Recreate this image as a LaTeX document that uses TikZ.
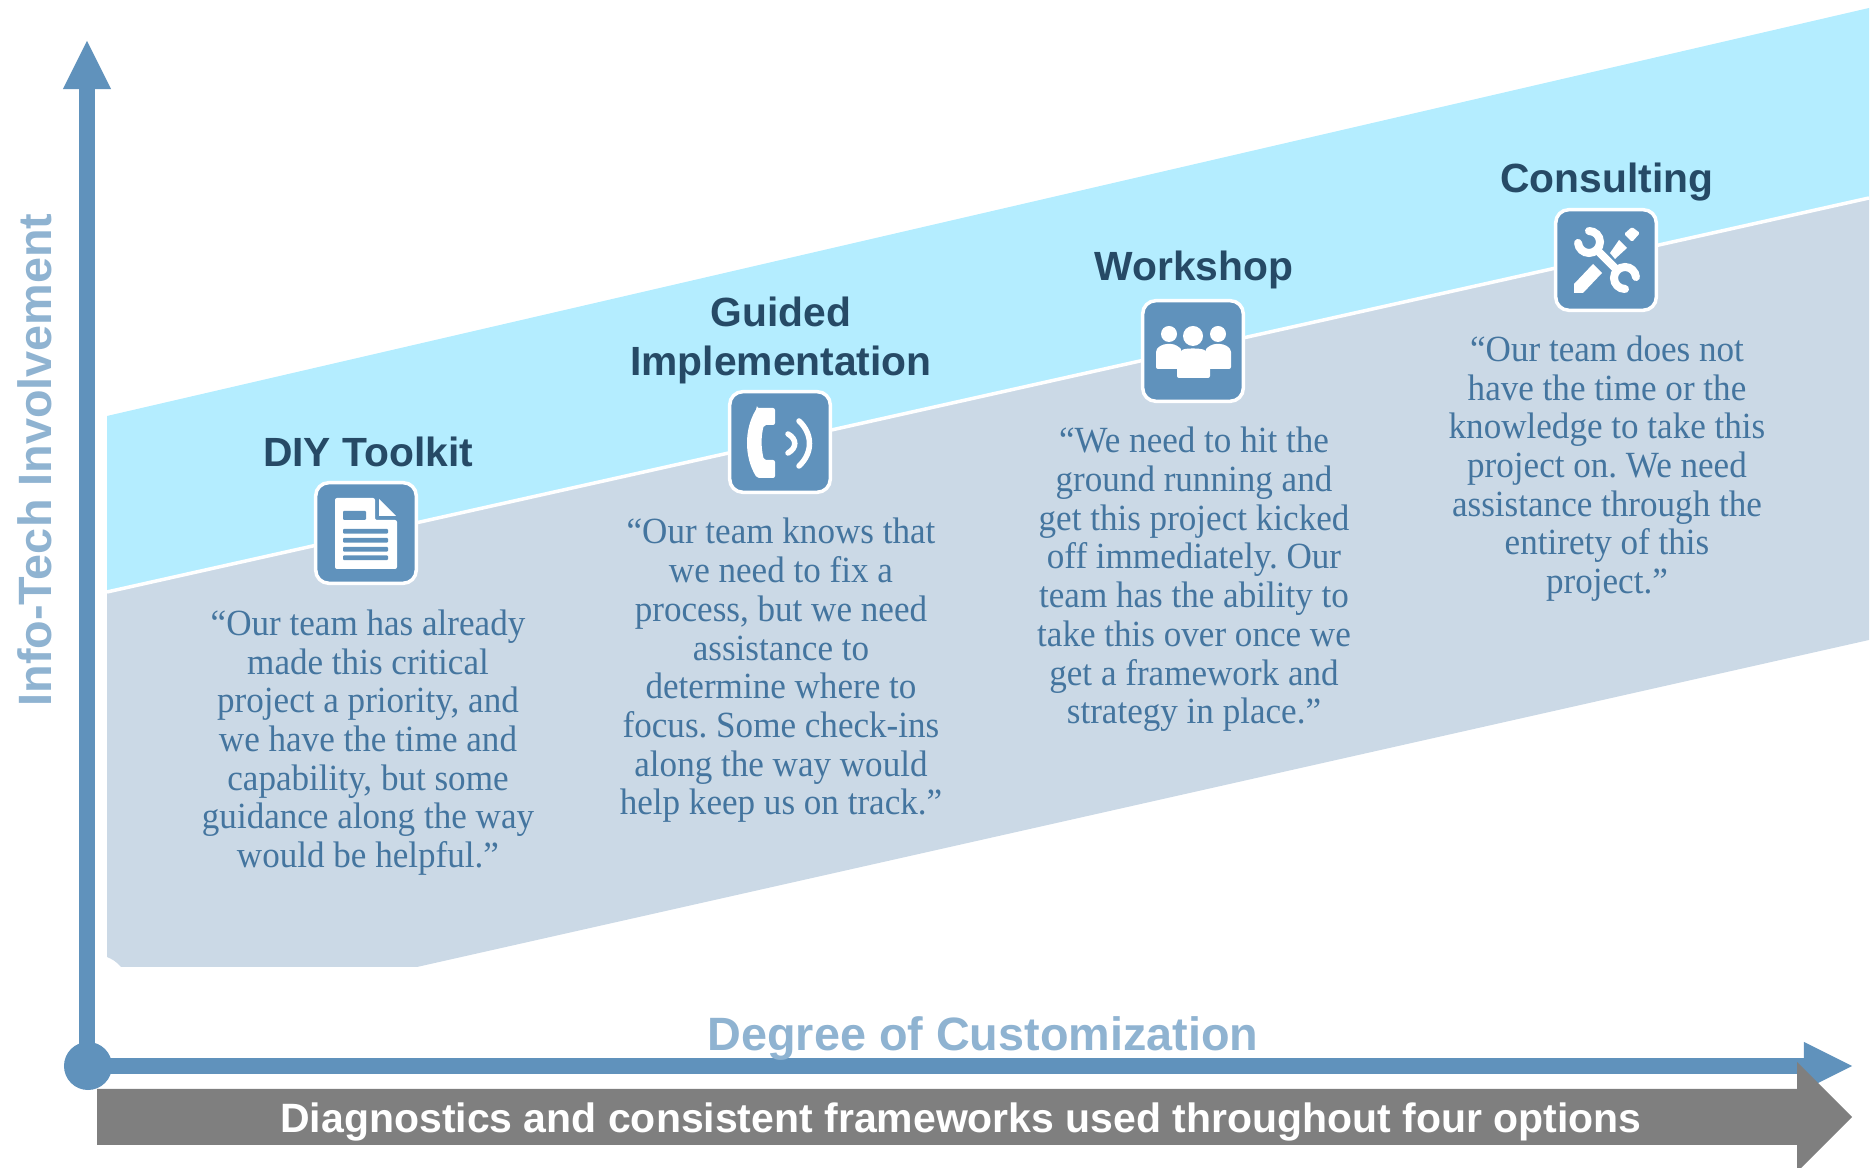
\documentclass[tikz,border=0pt]{standalone}
\usepackage{fontspec}
\setmainfont{Liberation Serif}
\setsansfont{Liberation Sans}
\newfontfamily\quotefont[FakeStretch=0.95]{Liberation Serif}
\usepackage{xcolor}
\usetikzlibrary{arrows.meta}
\definecolor{axisblue}{HTML}{6092BC}
\definecolor{labelblue}{HTML}{8FB3D1}
\definecolor{bandcyan}{HTML}{B4EDFF}
\definecolor{bandgray}{HTML}{CBD9E6}
\definecolor{titlenavy}{HTML}{264A66}
\definecolor{quoteblue}{HTML}{44759F}
\definecolor{bargray}{HTML}{7F7F7F}
\tikzset{
  axisline/.style={axisblue, line width=0.16cm, -{Triangle[length=0.48cm,width=0.48cm,line width=0pt]}},
  axistext/.style={font=\sffamily\bfseries\fontsize{13.3}{16}\selectfont, text=labelblue, inner sep=0},
  titletext/.style={font=\sffamily\bfseries\fontsize{11.6}{13.9}\selectfont, text=titlenavy, align=center, inner sep=0},
  quotetext/.style={font=\quotefont\frenchspacing\fontsize{10.5}{11}\selectfont, text=quoteblue, align=center, inner sep=0},
  iconbox/.style={draw=white, fill=axisblue, line width=0.035cm, rounded corners=0.13cm, minimum size=1.005cm, inner sep=0},
  glyph/.style={fill=white, draw=none},
  cutout/.style={fill=axisblue, draw=none, rounded corners=0.01cm},
  wave/.style={draw=white, line width=0.055cm, line cap=round},
  wrench/.style={draw=white, line width=0.08cm, line cap=round}
}
\begin{document}
\begin{tikzpicture}[x=0.01cm,y=-0.01cm]

\clip (0,0) rectangle (1875,1168);

% bands
\fill[bandcyan] (107,416)--(1869,8)--(1869,198)--(107,592)--cycle;
\fill[bandgray] (107,592)--(1869,198)--(1869,640)--(417,967)--(121,967)
  .. controls (117,962) and (112,959) .. (107,957)--cycle;
\draw[white, line width=0.035cm] (107,592)--(1869,198);

% axes
\node[circle, fill=axisblue, minimum size=0.48cm, inner sep=0] (origin) at (88,1066) {};
\coordinate (ytip) at (87,41);
\coordinate (xtip) at (1852,1066);
\draw[axisline] (87,1066)--(ytip);
\draw[axisline] (origin.center)--(xtip);

\fill[bargray] (97,1089)--(1797,1089)--(1797,1062)--(1852,1117)--(1797,1172)--(1797,1145)--(97,1145)--cycle;

% nodes
\node[axistext] (xlabel) at (983,1038.5) {Degree of Customization};
\node[axistext, rotate=90] (ylabel) at (35,460) {Info-Tech Involvement};
\node[font=\sffamily\bfseries\fontsize{11.65}{13}\selectfont, text=white, inner sep=0] (barlabel) at (961,1122.5)
  {Diagnostics and consistent frameworks used throughout four options};

\node[titletext] (diytitle) at (368,452) {DIY Toolkit};
\node[titletext] (guidedtitle) at (781,340.5) {Guided\\Implementation};
\node[titletext] (worktitle) at (1194,269.5) {Workshop};
\node[titletext] (consulttitle) at (1607,182) {Consulting};

\node[iconbox] (diyicon) at (366,533) {};
\node[iconbox] (guidedicon) at (780,442) {};
\node[iconbox] (workicon) at (1193,351) {};
\node[iconbox] (consulticon) at (1606,260) {};

\node[quotetext] (diyquote) at (368,742.5) {“Our team has already\\made this critical\\project a priority, and\\we have the time and\\capability, but some\\guidance along the way\\would be helpful.”};
\node[quotetext] (guidedquote) at (781,670.5) {“Our team knows that\\we need to fix a\\process, but we need\\assistance to\\determine where to\\focus. Some check-ins\\along the way would\\help keep us on track.”};
\node[quotetext] (workquote) at (1194,579.5) {“We need to hit the\\ground running and\\get this project kicked\\off immediately. Our\\team has the ability to\\take this over once we\\get a framework and\\strategy in place.”};
\node[quotetext] (consultquote) at (1607,468.5) {“Our team does not\\have the time or the\\knowledge to take this\\project on. We need\\assistance through the\\entirety of this\\project.”};

% document
\begin{scope}[shift={(diyicon.center)}]
\fill[glyph, rounded corners=0.02cm] (-31,-35)--(9,-35)--(9,-13)--(31,-13)--(31,36)--(-31,36)--cycle;
\fill[glyph] (13,-34)--(30,-17)--(13,-17)--cycle;
\fill[cutout] (-23,-22) rectangle (0,-13);
\foreach \y in {-4,5,14,22.5}
  \fill[cutout] (-23,\y) rectangle (22,\y+4.7);
\end{scope}

% phone
\begin{scope}[shift={(guidedicon.center)}]
\fill[glyph, rounded corners=0.02cm] (-23,-34)--(-5,-34)--(-5,-17)--(-16,-17)
  .. controls (-19,-6) and (-19,6) .. (-16,18)--(-5,18)--(-5,36)--(-23,36)
  .. controls (-36,15) and (-36,-13) .. (-23,-34)--cycle;
\draw[wave] (8,-8) .. controls (17,-3) and (17,6) .. (8,11);
\draw[wave] (19,-21) .. controls (33,-8) and (33,11) .. (19,24);
\end{scope}

% people
\begin{scope}[shift={(workicon.center)}]
\fill[glyph] (-24,-17) circle [radius=8];
\fill[glyph] (25,-17) circle [radius=8];
\fill[glyph] (0,-15) circle [radius=10];
\fill[glyph, rounded corners=0.02cm] (-37,18)--(-37,3) .. controls (-37,-4) and (-30,-7) .. (-24,-7)
  .. controls (-18,-7) and (-14,-4) .. (-11,-1)--(-11,18)--cycle;
\fill[glyph, rounded corners=0.02cm] (38,18)--(38,3) .. controls (38,-4) and (31,-7) .. (25,-7)
  .. controls (19,-7) and (15,-4) .. (12,-1)--(12,18)--cycle;
\fill[glyph, rounded corners=0.02cm] (-16,27)--(-16,8)--(-12,0) .. controls (-8,-3) and (8,-3) .. (13,0)--(17,8)--(17,27)--cycle;
\end{scope}

% tools
\begin{scope}[shift={(consulticon.center)}]
\draw[wrench] (-17,-29) arc [start angle=-90, end angle=175, radius=11];
\draw[wrench] (19,29) arc [start angle=90, end angle=355, radius=11];
\draw[wrench, line cap=butt] (-9,-10)--(11,10);
\fill[glyph] (-32,24)--(-13,4)--(-4,13)--(-23,33)--(-32,33)--cycle;
\fill[glyph] (4,-7)--(13,-20)--(21,-12)--(9,-1)--cycle;
\fill[glyph, rounded corners=0.015cm] (18,-26)--(26,-33)--(34,-27)--(26,-18)--cycle;
\end{scope}

\end{tikzpicture}
\end{document}
